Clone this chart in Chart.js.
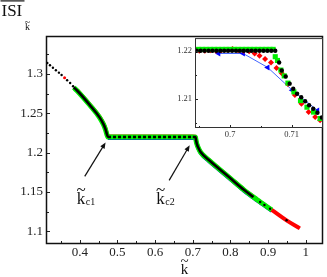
<!DOCTYPE html>
<html>
<head>
<meta charset="utf-8">
<script src="https://cdn.jsdelivr.net/npm/chart.js@4.4.0/dist/chart.umd.min.js"></script>
<style>
  html, body { margin: 0; padding: 0; background: #fff; }
  #wrap { position: relative; width: 327px; height: 277px; }
  #main { position: absolute; left: 0; top: 0; }
  #inset { position: absolute; left: 160px; top: 30px; }
</style>
</head>
<body>
<div id="wrap">
  <canvas id="main" width="327" height="277"></canvas>
  <canvas id="inset" width="167" height="115"></canvas>
</div>
<script>
// ---- main panel data (k~ on x, ISI on y) ----
const mainK = [0.3842, 0.3929, 0.4263, 0.4527, 0.4632, 0.4685, 0.4719, 0.4750, 0.5211,
  0.5817, 0.6422, 0.7000, 0.7073, 0.7090, 0.7110, 0.7148, 0.7207, 0.7426, 0.7689,
  0.8005, 0.8348, 0.8611, 0.8698, 0.9094, 0.9489, 0.9842];
const blackISI = [1.2830, 1.2790, 1.2608, 1.2449, 1.2360, 1.2295, 1.2238, 1.2200, 1.2200,
  1.2200, 1.2200, 1.2200, 1.2198, 1.2147, 1.2110, 1.2062, 1.2008, 1.1907, 1.1798,
  1.1671, 1.1531, 1.1436, null, null, null, null];
const greenISI = [1.2828, 1.2788, 1.2606, 1.2446, 1.2356, 1.2290, 1.2233, 1.2198, 1.2199,
  1.2199, 1.2199, 1.2199, 1.2196, 1.2144, 1.2107, 1.2059, 1.2006, 1.1905, 1.1797,
  1.1670, 1.1530, 1.1436, 1.1404, 1.1273, null, null];
const redISI = [null, 1.2795, 1.2613, 1.2455, 1.2366, 1.2301, 1.2244, 1.2205, 1.2205,
  1.2205, 1.2205, 1.2205, 1.2203, 1.2150, 1.2112, 1.2063, 1.2009, 1.1908, 1.1799,
  1.1672, 1.1532, 1.1437, 1.1405, 1.1273, 1.1140, 1.1038];
const blueISI = [null, null, null, null, null, null, null, 1.2180, 1.2180,
  1.2180, 1.2180, 1.2180, 1.2178, 1.2126, 1.2089, 1.2041, 1.1988, 1.1887, 1.1779,
  1.1652, 1.1513, 1.1419, 1.1387, 1.1256, null, null];
// sparse black dots at both ends
const sparseK = [0.3138, 0.3210, 0.3288, 0.3367, 0.3447, 0.3518, 0.3665, 0.3745, 0.3823,
  0.8788, 0.8901, 0.9051, 0.9489];
const sparseISI = [1.3140, 1.3111, 1.3080, 1.3047, 1.3017, 1.2987, 1.2920, 1.2886, 1.2844,
  1.1373, 1.1335, 1.1287, 1.1140];
const redDotK = [0.3597];
const redDotISI = [1.2952];

const mainXTicks = [0.4, 0.5, 0.6, 0.7, 0.8, 0.9, 1];
const mainXLabels = ['0.4', '0.5', '0.6', '0.7', '0.8', '0.9', '1'];
const mainXMinor = [0.35, 0.45, 0.55, 0.65, 0.75, 0.85, 0.95];
const mainYTicks = [1.1, 1.15, 1.2, 1.25, 1.3];
const mainYLabels = ['1.1', '1.15', '1.2', '1.25', '1.3'];
const mainYMinor = [1.125, 1.175, 1.225, 1.275, 1.325];

// arrows to the two critical points: [k from, ISI from, k to, ISI to]
const arrowC1 = [0.4132, 1.1699, 0.4685, 1.2129];
const arrowC2 = [0.6372, 1.1648, 0.6917, 1.2093];
const labelC1 = [0.3921, 1.1347];
const labelC2 = [0.6030, 1.1347];

// ---- inset data ----
const insetBlackK = [0.69458, 0.69522, 0.69585, 0.69649, 0.69713, 0.69777, 0.69841, 0.69904, 0.69968, 0.70032,
  0.70096, 0.70159, 0.70223, 0.70287, 0.70351, 0.70415, 0.70478, 0.70542, 0.70606, 0.70670,
  0.70734, 0.70797, 0.70840, 0.70904, 0.70968, 0.71026, 0.71089, 0.71156, 0.71220, 0.71284,
  0.71351, 0.71419, 0.71491];
const insetBlackISI = [1.2200, 1.2200, 1.2200, 1.2200, 1.2200, 1.2200, 1.2200, 1.2200, 1.2200, 1.2200,
  1.2200, 1.2200, 1.2200, 1.2200, 1.2200, 1.2200, 1.2200, 1.2200, 1.2200, 1.2200,
  1.2200, 1.21757, 1.21590, 1.21467, 1.21319, 1.21213, 1.21110, 1.21037, 1.20953, 1.20870,
  1.20797, 1.20716, 1.20615];
const insetGreenK = [0.69480, 0.69545, 0.69610, 0.69675, 0.69740, 0.69805, 0.69870, 0.69935, 0.70000, 0.70065,
  0.70130, 0.70195, 0.70260, 0.70325, 0.70390, 0.70455, 0.70520, 0.70585, 0.70650, 0.70700,
  0.70734, 0.70770, 0.70825, 0.70880, 0.70940, 0.71037, 0.71144, 0.71249, 0.71356, 0.71463];
const insetGreenISI = [1.2203, 1.2203, 1.2203, 1.2203, 1.2203, 1.2203, 1.2203, 1.2203, 1.2203, 1.2203,
  1.2203, 1.2203, 1.2203, 1.2203, 1.2203, 1.2203, 1.2203, 1.2203, 1.2203, 1.2203,
  1.21878, 1.21800, 1.21600, 1.21480, 1.21330, 1.21148, 1.20966, 1.20830, 1.20728, 1.20594];
const insetRedK = [0.69500, 0.69590, 0.69680, 0.69770, 0.69860, 0.69950, 0.70040, 0.70130, 0.70220, 0.70310,
  0.70399, 0.70478, 0.70569, 0.70665, 0.70754, 0.70840, 0.70940, 0.71053, 0.71160, 0.71276,
  0.71383, 0.71463];
const insetRedISI = [1.2200, 1.2200, 1.2201, 1.2200, 1.2201, 1.2202, 1.2204, 1.2201, 1.2200, 1.2199,
  1.21945, 1.21899, 1.21832, 1.21760, 1.21641, 1.21533, 1.21310, 1.21081, 1.20899, 1.20728,
  1.20627, 1.20560];
const insetBlueK = [0.69813, 0.70212, 0.70611, 0.71010, 0.71420];
const insetBlueISI = [1.21945, 1.21945, 1.21655, 1.21183, 1.20763];

const insetXTicks = [0.7, 0.71];
const insetXLabels = ['0.7', '0.71'];
const insetXMinor = [0.695, 0.705, 0.715];
const insetYTicks = [1.21, 1.22];
const insetYLabels = ['1.21', '1.22'];
const insetYMinor = [1.205, 1.215];

const SERIF = '"Liberation Serif", "DejaVu Serif", serif';

function pts(xs, ys) {
  return xs.map((x, i) => ({ x: x, y: ys[i] }));
}

// inward tick marks + box, drawn by hand like the original plot
function drawFrame(chart, t) {
  const ctx = chart.ctx, a = chart.chartArea;
  const sx = chart.scales.x, sy = chart.scales.y;
  ctx.save();
  ctx.strokeStyle = '#222';
  ctx.lineWidth = 1;
  ctx.beginPath();
  const vt = (v, len) => {
    const p = Math.round(sx.getPixelForValue(v)) + 0.5;
    if (p < a.left || p > a.right) return;
    ctx.moveTo(p, a.bottom);
    ctx.lineTo(p, a.bottom - len);
  };
  const ht = (v, len) => {
    const p = Math.round(sy.getPixelForValue(v)) + 0.5;
    if (p < a.top || p > a.bottom) return;
    ctx.moveTo(a.left, p);
    ctx.lineTo(a.left + len, p);
  };
  t.xMajor.forEach(v => vt(v, t.major));
  t.xMinor.forEach(v => vt(v, t.minor));
  t.yMajor.forEach(v => ht(v, t.major));
  t.yMinor.forEach(v => ht(v, t.minor));
  ctx.stroke();
  ctx.strokeStyle = t.color;
  ctx.lineWidth = t.lw;
  ctx.strokeRect(a.left + 0.5, a.top + 0.5, a.right - a.left - 1, a.bottom - a.top - 1);
  ctx.restore();
}

// "k" with a tilde on top
function kTilde(ctx, x, base, size) {
  ctx.font = size + 'px ' + SERIF;
  ctx.textAlign = 'left';
  ctx.textBaseline = 'alphabetic';
  ctx.fillText('k', x, base);
  const w = ctx.measureText('k').width;
  ctx.textAlign = 'center';
  ctx.fillText('~', x + w / 2, base - size * 0.55);
  return w;
}

function arrow(ctx, x0, y0, x1, y1) {
  const ang = Math.atan2(y1 - y0, x1 - x0);
  ctx.beginPath();
  ctx.moveTo(x0, y0);
  ctx.lineTo(x1 - 4 * Math.cos(ang), y1 - 4 * Math.sin(ang));
  ctx.stroke();
  ctx.beginPath();
  ctx.moveTo(x1, y1);
  ctx.lineTo(x1 - 6 * Math.cos(ang) + 2.5 * Math.sin(ang), y1 - 6 * Math.sin(ang) - 2.5 * Math.cos(ang));
  ctx.lineTo(x1 - 6 * Math.cos(ang) - 2.5 * Math.sin(ang), y1 - 6 * Math.sin(ang) + 2.5 * Math.cos(ang));
  ctx.closePath();
  ctx.fill();
}

const mainDecor = {
  id: 'mainDecor',
  afterDraw(chart) {
    const ctx = chart.ctx;
    const sx = chart.scales.x, sy = chart.scales.y;
    drawFrame(chart, { xMajor: mainXTicks, xMinor: mainXMinor, yMajor: mainYTicks, yMinor: mainYMinor,
      major: 4, minor: 3, lw: 1.5, color: '#111' });
    ctx.save();
    ctx.fillStyle = '#111';
    ctx.strokeStyle = '#111';
    // y title: ISI with overline, subscript k~
    ctx.font = '17px ' + SERIF;
    ctx.textAlign = 'left';
    ctx.fillText('ISI', 1.5, 16);
    ctx.fillRect(0.5, 0.3, 24, 1.2);
    kTilde(ctx, 25, 30, 10);
    // x title
    ctx.font = '15px ' + SERIF;
    const kw = ctx.measureText('k').width;
    kTilde(ctx, (chart.chartArea.left + chart.chartArea.right) / 2 - kw / 2, 274, 15);
    // arrows
    ctx.lineWidth = 1.2;
    [arrowC1, arrowC2].forEach(a => arrow(ctx, sx.getPixelForValue(a[0]), sy.getPixelForValue(a[1]),
      sx.getPixelForValue(a[2]), sy.getPixelForValue(a[3])));
    // labels
    [[labelC1, 'c1'], [labelC2, 'c2']].forEach(l => {
      const x = sx.getPixelForValue(l[0][0]), y = sy.getPixelForValue(l[0][1]);
      const w = kTilde(ctx, x, y, 17);
      ctx.font = '10px ' + SERIF;
      ctx.textAlign = 'left';
      ctx.fillText(l[1], x + w + 0.5, y + 1);
    });
    ctx.restore();
  }
};

const insetDecor = {
  id: 'insetDecor',
  beforeDraw(chart) {
    const a = chart.chartArea, ctx = chart.ctx;
    ctx.save();
    ctx.fillStyle = '#fff';
    ctx.fillRect(a.left, a.top, a.right - a.left, a.bottom - a.top);
    ctx.restore();
  },
  afterDraw(chart) {
    drawFrame(chart, { xMajor: insetXTicks, xMinor: insetXMinor, yMajor: insetYTicks, yMinor: insetYMinor,
      major: 3, minor: 2, lw: 1, color: '#333' });
  }
};

const lineBase = { showLine: true, pointRadius: 0, cubicInterpolationMode: 'monotone', borderJoinStyle: 'round' };

// black is dotted where it sits on the plateau
const plateauDash = { borderDash: c => (c.p0.parsed.y === c.p1.parsed.y ? [3, 2] : undefined) };

new Chart(document.getElementById('main'), {
  type: 'scatter',
  data: {
    datasets: [
      Object.assign({ data: pts(mainK, blackISI), borderColor: '#000', borderWidth: 2.6, order: 0, segment: plateauDash }, lineBase),
      { data: pts(sparseK, sparseISI), showLine: false, pointRadius: 1.2, pointBackgroundColor: '#000', pointBorderWidth: 0, order: 0 },
      Object.assign({ data: pts(mainK, greenISI), borderColor: '#00ee00', borderWidth: 5, order: 1 }, lineBase),
      Object.assign({ data: pts(mainK, redISI), borderColor: '#ff0000', borderWidth: 4, order: 2 }, lineBase),
      { data: pts(redDotK, redDotISI), showLine: false, pointRadius: 1.5, pointBackgroundColor: '#ff0000', pointBorderWidth: 0, order: 2 },
      Object.assign({ data: pts(mainK, blueISI), borderColor: '#0000ff', borderWidth: 3, order: 3 }, lineBase)
    ]
  },
  options: {
    responsive: false,
    animation: false,
    devicePixelRatio: 1,
    layout: { padding: { top: 36, right: 2, left: 0, bottom: 0 } },
    plugins: { legend: { display: false }, tooltip: { enabled: false } },
    scales: {
      x: {
        type: 'linear', min: 0.3104, max: 1.0456,
        grid: { display: false, drawTicks: false }, border: { display: false },
        afterBuildTicks: s => { s.ticks = mainXTicks.map(v => ({ value: v })); },
        afterFit: s => { s.height = 33; },
        ticks: { autoSkip: false, maxRotation: 0, padding: 1, color: '#222',
          font: { family: SERIF, size: 13 }, callback: (v, i) => mainXLabels[i] }
      },
      y: {
        type: 'linear', min: 1.0839, max: 1.3483,
        grid: { display: false, drawTicks: false }, border: { display: false },
        afterBuildTicks: s => { s.ticks = mainYTicks.map(v => ({ value: v })); },
        afterFit: s => { s.width = 46; },
        ticks: { autoSkip: false, padding: 3, color: '#222',
          font: { family: SERIF, size: 13 }, callback: (v, i) => mainYLabels[i] }
      }
    }
  },
  plugins: [mainDecor]
});

new Chart(document.getElementById('inset'), {
  type: 'scatter',
  data: {
    datasets: [
      { data: pts(insetBlackK, insetBlackISI), pointStyle: 'circle', pointRadius: 2.2,
        pointBackgroundColor: '#000', pointBorderWidth: 0, order: 0, clip: 0 },
      { data: pts(insetGreenK, insetGreenISI), pointStyle: 'rect', pointRadius: 3.6,
        pointBackgroundColor: '#00ee00', pointBorderWidth: 0, order: 1, clip: 0 },
      { data: pts(insetRedK, insetRedISI), pointStyle: 'rectRot', pointRadius: 3,
        pointBackgroundColor: '#ff0000', pointBorderWidth: 0, order: 2, clip: 0 },
      { data: pts(insetBlueK, insetBlueISI), showLine: true, borderColor: '#4466ff', borderWidth: 1,
        pointStyle: 'triangle', pointRotation: -90, pointRadius: 3.5,
        pointBackgroundColor: '#0000ff', pointBorderWidth: 0, order: 3, clip: 0 }
    ]
  },
  options: {
    responsive: false,
    animation: false,
    devicePixelRatio: 1,
    layout: { padding: { top: 6, right: 2, left: 0, bottom: 0 } },
    plugins: { legend: { display: false }, tooltip: { enabled: false } },
    scales: {
      x: {
        type: 'linear', min: 0.69430, max: 0.71510,
        grid: { display: false, drawTicks: false }, border: { display: false },
        afterBuildTicks: s => { s.ticks = insetXTicks.map(v => ({ value: v })); },
        afterFit: s => { s.height = 17; },
        ticks: { autoSkip: false, maxRotation: 0, padding: 2, color: '#333',
          font: { family: SERIF, size: 8.5 }, callback: (v, i) => insetXLabels[i] }
      },
      y: {
        type: 'linear', min: 1.20398, max: 1.22264,
        grid: { display: false, drawTicks: false }, border: { display: false },
        afterBuildTicks: s => { s.ticks = insetYTicks.map(v => ({ value: v })); },
        afterFit: s => { s.width = 35; },
        ticks: { autoSkip: false, padding: 3, color: '#333',
          font: { family: SERIF, size: 8.5 }, callback: (v, i) => insetYLabels[i] }
      }
    }
  },
  plugins: [insetDecor]
});
</script>
</body>
</html>
